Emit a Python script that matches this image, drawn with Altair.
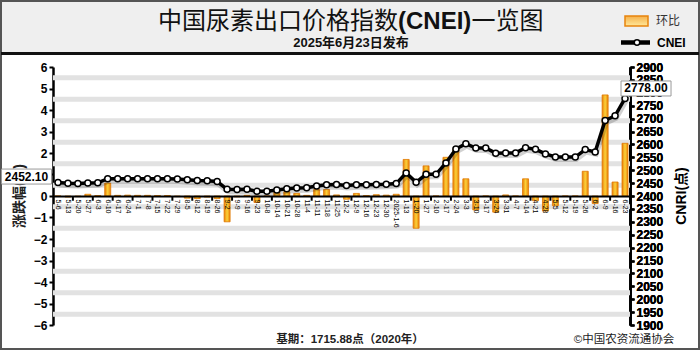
import altair as alt
import pandas as pd

dates = ["5-6", "5-13", "5-20", "5-27", "6-3", "6-10", "6-17", "6-24", "7-1", "7-8",
         "7-15", "7-22", "7-29", "8-5", "8-12", "8-19", "8-26", "9-2", "9-9", "9-16",
         "9-23", "10-8", "10-14", "10-21", "10-28", "11-4", "11-11", "11-18", "11-25", "12-2",
         "12-9", "12-16", "12-23", "12-30", "2025-1-6", "1-13", "1-20", "1-27", "2-10", "2-17",
         "2-24", "3-3", "3-10", "3-17", "3-24", "3-31", "4-7", "4-14", "4-21", "4-28",
         "5-5", "5-12", "5-19", "5-26", "6-2", "6-9", "6-16", "6-23"]

cnei = [2452.10, 2449, 2448, 2450, 2451, 2467, 2467, 2467, 2467, 2467,
        2467, 2467, 2466, 2463, 2460, 2459, 2456, 2426, 2425, 2426,
        2418, 2418, 2423, 2428, 2431, 2432, 2439, 2444, 2445, 2441,
        2444, 2444, 2445, 2446, 2448, 2489, 2453, 2484, 2484, 2528,
        2582, 2603, 2586, 2586, 2566, 2567, 2567, 2587, 2581, 2563,
        2551, 2551, 2551, 2580, 2571, 2693, 2711, 2778.00]

change = [0.0, -0.05, -0.03, 0.08, 0.02, 0.6, 0.03, 0.04, 0.03, 0.03,
          0.02, 0.02, -0.03, -0.1, -0.12, -0.05, -0.12, -1.2, -0.04, 0.03,
          -0.3, 0.0, 0.2, 0.2, 0.12, 0.03, 0.3, 0.3, 0.05, -0.15,
          0.12, 0.02, 0.06, 0.04, 0.08, 1.7, -1.5, 1.4, 0.0, 1.8,
          2.2, 0.8, -0.65, 0.0, -0.75, 0.05, 0.0, 0.8, -0.22, -0.7,
          -0.45, 0.0, 0.0, 1.15, -0.35, 4.7, 0.65, 2.45]

left_ticks = [6, 5, 4, 3, 2, 1, 0, -1, -2, -3, -4, -5, -6]
right_ticks = list(range(1900, 2901, 50))
stripe_levels = [5.5, 4.5, 3.5, 2.5, 1.5, 0.5, -0.5, -1.5, -2.5, -3.5, -4.5, -5.5]

TITLE_A = "中国尿素出口价格指数"
TITLE_B = "(CNEI)"
TITLE_C = "一览图"
SUBTITLE = "2025年6月23日发布"
LEG_BAR = "环比"
LEG_LINE = "CNEI"
LEFT_TITLE = "涨跌幅(%)"
RIGHT_TITLE = "CNRI(点)"
FOOT_BASE = "基期：1715.88点（2020年）"
FOOT_SRC = "©中国农资流通协会"

W, H = 577, 258
LAT = "Liberation Sans, Noto Sans CJK SC"
CJK = "Noto Sans CJK SC"

df = pd.DataFrame({"date": dates, "cnei": cnei, "change": change,
                   "idx": list(range(len(dates)))})
df["label"] = df["cnei"].map(lambda v: f"{v:.2f}")

x_scale = alt.Scale(domain=dates, paddingInner=0, paddingOuter=0)
x_axis = alt.Axis(title=None, labelAngle=90, labelAlign="left", labelBaseline="middle",
                  labelFontSize=7, labelFont=LAT, labelColor="#000", labelPadding=3,
                  labelOverlap=False, labelBound=False, ticks=False, domainColor="#000",
                  domainWidth=2, offset=-H / 2, zindex=1)
x_enc = alt.X("date:N", sort=None, scale=x_scale, axis=x_axis)

left_scale = alt.Scale(domain=[-6, 6], nice=False)
left_axis = alt.Axis(title=None, values=left_ticks, grid=False, labelFont=LAT,
                     labelFontWeight="bold", labelFontSize=12, labelColor="#000",
                     tickColor="#000", tickSize=4, tickWidth=2, domainColor="#000",
                     domainWidth=2.5, labelPadding=2, zindex=0)


def y_left(field):
    return alt.Y(f"{field}:Q", scale=left_scale, axis=left_axis)


right_scale = alt.Scale(domain=[1900, 2900], nice=False, zero=False)
right_axis = alt.Axis(orient="right", title=None, values=right_ticks, grid=False, format="d",
                      labelFont=LAT, labelFontWeight="bold", labelFontSize=12,
                      labelColor="#000", tickColor="#000", tickSize=4, tickWidth=2,
                      domainColor="#000", domainWidth=2.5, labelPadding=2, zindex=0)
y_right = alt.Y("cnei:Q", scale=right_scale, axis=right_axis)

bar_grad = alt.Gradient(gradient="linear", x1=0, x2=1, y1=0, y2=0,
                        stops=[alt.GradientStop(color="#ea7e08", offset=0),
                               alt.GradientStop(color="#fbd23a", offset=0.5),
                               alt.GradientStop(color="#ea7e08", offset=1)])

one = pd.DataFrame({"a": [0]})

# ---- decorations ----
header = alt.Chart(one).mark_rect(fill="#efefef").encode(
    x=alt.value(-52), x2=alt.value(646), y=alt.value(-66), y2=alt.value(-15))
frame = alt.Chart(one).mark_rect(fillOpacity=0, stroke="#555", strokeWidth=2).encode(
    x=alt.value(-52), x2=alt.value(646), y=alt.value(-66), y2=alt.value(282))
hline = alt.Chart(one).mark_rule(color="#111", strokeWidth=3).encode(
    x=alt.value(-52), x2=alt.value(646), y=alt.value(-13.5))

# ---- left (percent change) group ----
stripes = alt.Chart(pd.DataFrame({"change": stripe_levels})).mark_rule(
    color="#e2e2e2", strokeWidth=5).encode(y=y_left("change"))
bars = alt.Chart(df).mark_bar(size=6, color=bar_grad, stroke="#e07800", strokeWidth=0.8).encode(
    x=x_enc, y=y_left("change"), y2=alt.datum(0))
xticks = alt.Chart(df).transform_filter("datum.idx % 2 == 1").transform_calculate(
    t0="0", t1="-0.22").mark_rule(color="#000", strokeWidth=2).encode(
    x=alt.X("date:N", sort=None, scale=x_scale, axis=x_axis, bandPosition=1),
    y=y_left("t0"), y2="t1:Q")
left_group = alt.layer(stripes, bars, xticks)

# ---- right (CNEI) group ----
shadow = alt.Chart(df).mark_line(color="#000", strokeWidth=5, opacity=0.18,
                                 xOffset=1, yOffset=2.5).encode(x=x_enc, y=y_right)
line = alt.Chart(df).mark_line(color="#000", strokeWidth=3.5).encode(x=x_enc, y=y_right)
points = alt.Chart(df).mark_point(filled=True, fill="white", stroke="#000", strokeWidth=1.5,
                                  size=36, opacity=1).encode(x=x_enc, y=y_right)
BOX = "M-1,-0.3L1,-0.3L1,0.3L-1,0.3Z"
first_box = alt.Chart(df).transform_filter("datum.idx == 0").mark_point(
    shape=BOX, size=2500, filled=True, fill="white", stroke="#999", strokeWidth=1,
    opacity=1, yOffset=-6).encode(x=alt.value(-26.5), y=y_right)
first_txt = alt.Chart(df).transform_filter("datum.idx == 0").mark_text(
    font=LAT, fontWeight="bold", fontSize=12, yOffset=-6, color="#000").encode(
    x=alt.value(-26.5), y=y_right, text="label:N")
last_box = alt.Chart(df).transform_filter(f"datum.idx == {len(dates) - 1}").mark_point(
    shape=BOX, size=2500, filled=True, fill="white", stroke="#999", strokeWidth=1,
    opacity=1, xOffset=21, yOffset=-10).encode(x=x_enc, y=y_right)
last_txt = alt.Chart(df).transform_filter(f"datum.idx == {len(dates) - 1}").mark_text(
    font=LAT, fontWeight="bold", fontSize=12, xOffset=21, yOffset=-10, color="#000").encode(
    x=x_enc, y=y_right, text="label:N")
right_group = alt.layer(shadow, line, points, last_box, last_txt)

# ---- texts ----
def txt(s, x, y, size, font=LAT, weight="normal", align="center", angle=0, color="#111"):
    return alt.Chart(one).mark_text(text=s, font=font, fontSize=size, fontWeight=weight,
                                    align=align, baseline="middle", angle=angle,
                                    color=color).encode(x=alt.value(x), y=alt.value(y))

title_a = txt(TITLE_A, 105, -45, 24, font=CJK, align="left")
title_b = txt(TITLE_B, 345, -45, 24, weight="bold", align="left")
title_c = txt(TITLE_C, 418.5, -45, 24, font=CJK, align="left")
subtitle = txt(SUBTITLE, 298, -24, 13, weight="bold")
leg_swatch = alt.Chart(one).mark_rect(color=alt.Gradient(
    gradient="linear", x1=0, x2=0, y1=0, y2=1,
    stops=[alt.GradientStop(color="#f5b04a", offset=0),
           alt.GradientStop(color="#ffe89a", offset=1)]),
    stroke="#e8840c", strokeWidth=1.5).encode(
    x=alt.value(572), x2=alt.value(595), y=alt.value(-51), y2=alt.value(-41))
leg_bar_t = txt(LEG_BAR, 603, -46, 12, font=CJK, align="left", color="#333")
leg_line = alt.Chart(one).mark_rule(color="#000", strokeWidth=4.5).encode(
    x=alt.value(568), x2=alt.value(597), y=alt.value(-24.5))
leg_pt = alt.Chart(one).mark_point(filled=True, fill="white", stroke="#000", strokeWidth=1.5,
                                   size=30, opacity=1).encode(x=alt.value(584), y=alt.value(-24.5))
leg_line_t = txt(LEG_LINE, 604, -24.5, 12, weight="bold", align="left", color="#000")
left_title = txt(LEFT_TITLE, -33, 129, 14, weight="bold", angle=270, color="#222")
right_title = txt(RIGHT_TITLE, 629, 129, 14, weight="bold", angle=270, color="#000")
foot1 = txt(FOOT_BASE, 297, 273, 11.5, weight="bold", color="#222")
foot2 = txt(FOOT_SRC, 571, 273, 11.5, color="#222")

chart = alt.layer(
    header, frame, hline, left_title,
    left_group, right_group,
    title_a, title_b, title_c, subtitle,
    leg_swatch, leg_bar_t, leg_line, leg_pt, leg_line_t,
    right_title, foot1, foot2,
    first_box, first_txt,
).resolve_scale(y="independent").properties(
    width=W, height=H,
    padding={"left": 53, "top": 67, "right": 70, "bottom": 25},
    autosize=alt.AutoSizeParams(type="none"),
    background="white",
).configure_view(stroke=None)

chart.save("out.html", embed_options={"renderer": "svg", "actions": False})
